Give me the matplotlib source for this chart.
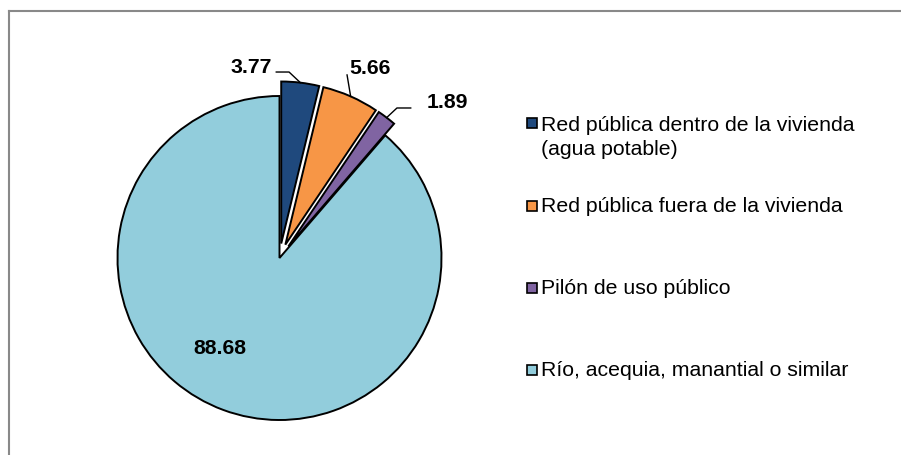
import numpy as np
import matplotlib
matplotlib.use("Agg")
import matplotlib.pyplot as plt
from matplotlib.patches import Rectangle
from matplotlib.lines import Line2D

plt.rcParams['font.family'] = ['Liberation Sans', 'DejaVu Sans']

labels = ["Red pública dentro de la vivienda\n(agua potable)",
          "Red pública fuera de la vivienda",
          "Pilón de uso público",
          "Río, acequia, manantial o similar"]
values = [3.77, 5.66, 1.89, 88.68]
colors = ['#1F497D', '#F79646', '#8064A2', '#92CDDC']
explode = [0.09, 0.09, 0.09, 0.0]

W, H = 901, 456
fig = plt.figure(figsize=(W / 100, H / 100), dpi=100)

# pie axes: 1 data unit = 162 px, centre at (279.5, 259) px from top-left
R = 162.0
span = 2.4
size = span * R
cx, cy = 279.5, H - 259
ax = fig.add_axes([(cx - size / 2) / W, (cy - size / 2) / H, size / W, size / H])

wedges, _ = ax.pie(values, colors=colors, explode=explode, startangle=90,
                   counterclock=False, radius=1.0,
                   wedgeprops=dict(edgecolor='black', linewidth=1.4))
ax.set_xlim(-span / 2, span / 2)
ax.set_ylim(-span / 2, span / 2)
ax.axis('off')

# leader line helpers: anchor on the outer edge of each small slice
cum = np.cumsum([0] + values[:-1])
mids = 90 - (cum + np.array(values) / 2) * 3.6
def edge_point(i):
    r = 1.0 + explode[i]
    a = np.deg2rad(mids[i])
    return r * np.cos(a), r * np.sin(a)

lbl = dict(fontsize=15.3, fontweight='bold', color='black')

# 3.77
x0, y0 = edge_point(0)
ax.add_line(Line2D([x0, 0.059, -0.02], [y0, 1.148, 1.148], color='black', lw=1))
ax.text(-0.05, 1.185, f"{values[0]:.2f}", ha='right', va='center', **lbl)
# 5.66
x0, y0 = edge_point(1)
ax.add_line(Line2D([x0, 0.417], [y0, 1.13], color='black', lw=1))
ax.text(0.56, 1.175, f"{values[1]:.2f}", ha='center', va='center', **lbl)
# 1.89
x0, y0 = edge_point(2)
ax.add_line(Line2D([x0, 0.725, 0.81], [y0, 0.926, 0.926], color='black', lw=1))
ax.text(0.91, 0.965, f"{values[2]:.2f}", ha='left', va='center', **lbl)
# 88.68
ax.text(-0.37, -0.55, f"{values[3]:.2f}", ha='center', va='center', **lbl)

# legend drawn by hand to match the spacing of the original
leg_y = [124, 207, 289, 371]
for lab, col, y in zip(labels, colors, leg_y):
    fig.patches.append(Rectangle(((527) / W, (H - y - 5) / H), 10 / W, 10 / H,
                                 transform=fig.transFigure, facecolor=col,
                                 edgecolor='black', linewidth=1.2))
    multi = '\n' in lab
    fig.text(541 / W, (H - y + (8 if multi else 0)) / H, lab, ha='left',
             va='top' if multi else 'center', fontsize=15.3, linespacing=1.35)

# chart frame (only top and left visible)
fig.add_artist(Line2D([8.5 / W, 8.5 / W], [0, (H - 11.5) / H], color='#898989', lw=1.5))
fig.add_artist(Line2D([8.5 / W, 1], [(H - 11.5) / H, (H - 11.5) / H], color='#898989', lw=1.5))

fig.savefig("out.png", dpi=100)
